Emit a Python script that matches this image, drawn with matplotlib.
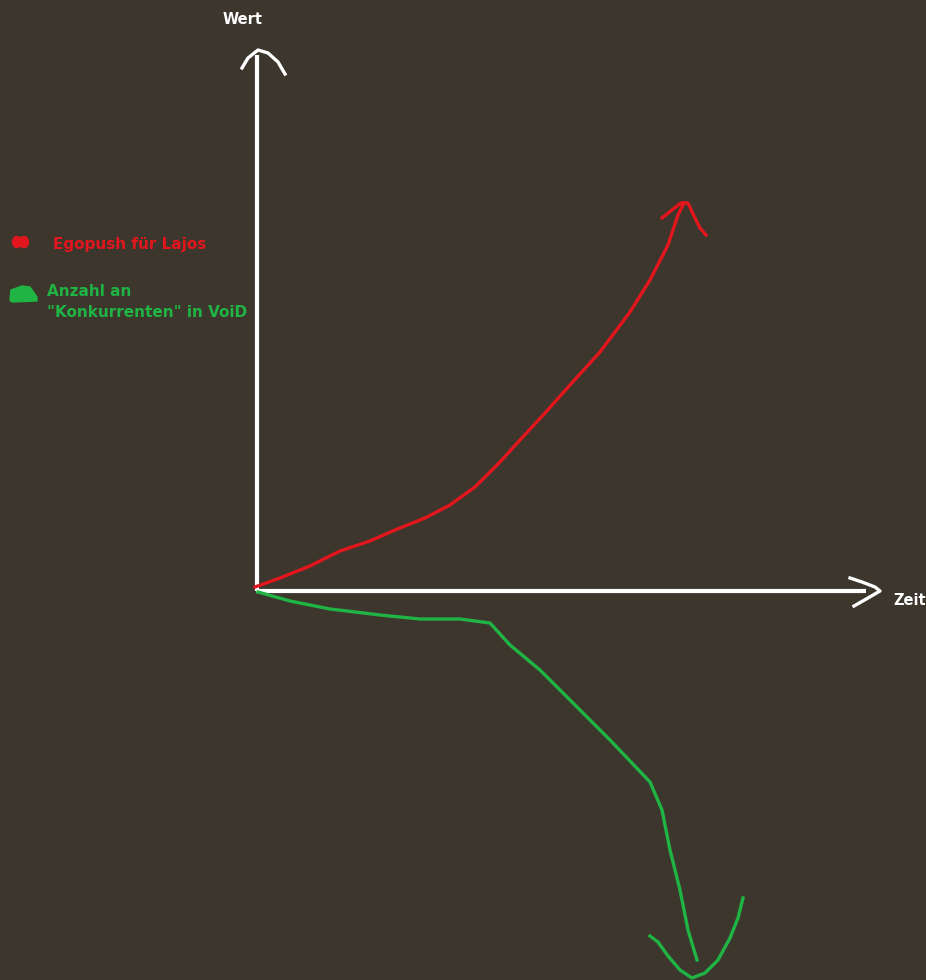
import matplotlib
matplotlib.use('agg')
import matplotlib.pyplot as plt
from matplotlib.patches import Ellipse, Polygon

# hand drawn sketch, coordinates in picture pixels (y goes down)
axis_y_x = [257, 257]
axis_y_y = [591, 55]
axis_x_x = [256, 866]
axis_x_y = [591, 591]
head_y_x = [242, 248, 258, 268, 278, 285]
head_y_y = [68, 58, 50, 53, 62, 74]
head_x_x = [850, 862, 875, 880, 868, 854]
head_x_y = [578, 582, 587, 591, 598, 606]

red_x = [255, 280, 310, 340, 370, 395, 425, 450, 475, 500, 520, 545,
         570, 600, 630, 650, 668, 678, 684]
red_y = [587, 578, 566, 551, 541, 530, 518, 505, 487, 462, 440, 413,
         385, 352, 312, 280, 245, 215, 203]
red_head_x = [662, 672, 681, 688, 694, 700, 706]
red_head_y = [218, 210, 203, 203, 216, 228, 235]

green_x = [258, 290, 330, 380, 420, 460, 490, 510, 540, 575, 610, 650,
           662, 670, 680, 688, 697]
green_y = [592, 601, 609, 615, 619, 619, 623, 645, 670, 705, 740, 782,
           810, 850, 890, 930, 960]
green_head_x = [650, 658, 668, 680, 692, 705, 718, 730, 738, 743]
green_head_y = [936, 942, 956, 970, 978, 973, 960, 938, 918, 898]

labels = ['Wert', 'Zeit']
legend_labels = ['Egopush für Lajos', 'Anzahl an\n"Konkurrenten" in VoiD']

bg = '#3c362d'
white = '#ffffff'
red = '#e3161e'
green = '#1fb443'

fig = plt.figure(figsize=(9.26, 9.8), dpi=100, facecolor=bg)
ax = fig.add_axes([0, 0, 1, 1])
ax.set_facecolor(bg)
ax.set_xlim(0, 926)
ax.set_ylim(980, 0)
ax.axis('off')

lw = 2.4
ax.plot(axis_y_x, axis_y_y, color=white, lw=3, solid_capstyle='butt')
ax.plot(axis_x_x, axis_x_y, color=white, lw=3, solid_capstyle='butt')
ax.plot(head_y_x, head_y_y, color=white, lw=lw, solid_joinstyle='round')
ax.plot(head_x_x, head_x_y, color=white, lw=lw, solid_joinstyle='round')

ax.plot(red_x, red_y, color=red, lw=lw, solid_joinstyle='round')
ax.plot(red_head_x, red_head_y, color=red, lw=lw, solid_joinstyle='round')
ax.plot(green_x, green_y, color=green, lw=lw, solid_joinstyle='round')
ax.plot(green_head_x, green_head_y, color=green, lw=lw, solid_joinstyle='round')

ax.text(243, 20, labels[0], color=white, fontsize=10.5, ha='center', va='center', weight='bold')
ax.text(893, 600, labels[1], color=white, fontsize=10.5, ha='left', va='center', weight='bold')

# little legend blobs
ax.add_patch(Ellipse((17, 242), 9, 11, color=red))
ax.add_patch(Ellipse((24, 242), 9, 11, color=red))
ax.add_patch(Polygon([[10, 300], [11, 290], [22, 286], [30, 287], [37, 297],
                      [37, 301], [12, 302]], color=green))
ax.text(53, 244, legend_labels[0], color=red, fontsize=11, ha='left', va='center',
        weight='bold')
ax.text(47, 302, legend_labels[1], color=green, fontsize=11, ha='left', va='center',
        linespacing=1.5, weight='bold')

fig.savefig('out.png', dpi=100, facecolor=bg)
